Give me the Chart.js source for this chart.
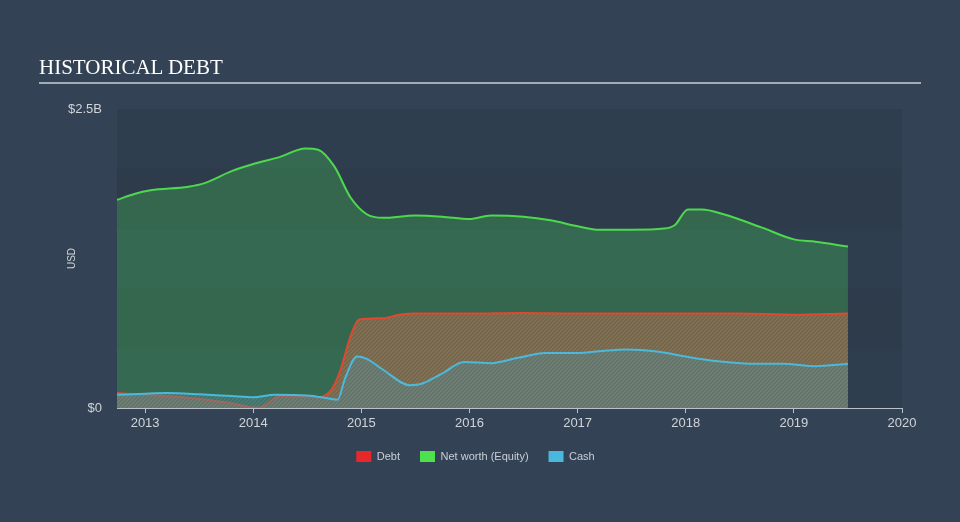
<!DOCTYPE html>
<html>
<head>
<meta charset="utf-8">
<script src="https://cdn.jsdelivr.net/npm/chart.js@4/dist/chart.umd.min.js"></script>
<style>
  html, body { margin: 0; padding: 0; background: #334355; width: 960px; height: 522px; overflow: hidden; }
  #wrap { position: relative; width: 960px; height: 522px; }
  #title { position: absolute; left: 39px; top: 55px; width: 882px; font-family: "Liberation Serif", "Times New Roman", serif; font-size: 21px; color: #ffffff; border-bottom: 2px solid #a3aab3; padding-bottom: 3px; line-height: 24px; }
  canvas { position: absolute; left: 0; top: 0; }
</style>
</head>
<body>
<div id="wrap">
  <canvas id="c" width="960" height="522"></canvas>
  <div id="title">HISTORICAL DEBT</div>
</div>
<script>
// ---- data (values in billions USD, x in fractional years) ----
const seriesNames = ["Debt", "Net worth (Equity)", "Cash"];
const xTickYears = [2013, 2014, 2015, 2016, 2017, 2018, 2019, 2020];
const yTickValues = [0, 2.5];
const yTickLabels = ["$0", "$2.5B"];

const debtDates  = [2012.74, 2013.0, 2013.2, 2013.5, 2013.8, 2014.0, 2014.06, 2014.25, 2014.6, 2014.72, 2014.8, 2014.9, 2014.98, 2015.2, 2015.35, 2015.5, 2016.0, 2016.5, 2017.0, 2017.5, 2018.0, 2018.5, 2019.0, 2019.5];
const debtValues = [0.125, 0.11, 0.10, 0.075, 0.04, 0.005, 0.005, 0.10, 0.09, 0.15, 0.30, 0.60, 0.74, 0.75, 0.78, 0.79, 0.79, 0.795, 0.79, 0.79, 0.79, 0.79, 0.78, 0.79];

const equityDates  = [2012.74, 2012.9, 2013.05, 2013.4, 2013.55, 2013.8, 2014.0, 2014.25, 2014.48, 2014.6, 2014.75, 2014.9, 2015.05, 2015.2, 2015.5, 2015.75, 2016.0, 2016.2, 2016.5, 2016.75, 2017.0, 2017.2, 2017.5, 2017.8, 2017.9, 2018.02, 2018.15, 2018.35, 2018.7, 2019.0, 2019.2, 2019.5];
const equityValues = [1.74, 1.79, 1.82, 1.85, 1.88, 1.98, 2.04, 2.10, 2.17, 2.16, 2.02, 1.76, 1.62, 1.59, 1.61, 1.60, 1.58, 1.61, 1.60, 1.57, 1.52, 1.49, 1.49, 1.50, 1.53, 1.66, 1.66, 1.62, 1.51, 1.41, 1.39, 1.35];

const cashDates  = [2012.74, 2013.0, 2013.2, 2013.5, 2013.8, 2014.0, 2014.2, 2014.5, 2014.7, 2014.78, 2014.85, 2014.96, 2015.05, 2015.2, 2015.45, 2015.55, 2015.75, 2015.95, 2016.2, 2016.45, 2016.7, 2017.0, 2017.2, 2017.45, 2017.75, 2018.0, 2018.3, 2018.6, 2018.9, 2019.2, 2019.5];
const cashValues = [0.11, 0.12, 0.125, 0.115, 0.10, 0.09, 0.11, 0.105, 0.08, 0.07, 0.25, 0.43, 0.41, 0.32, 0.19, 0.20, 0.29, 0.385, 0.375, 0.42, 0.46, 0.46, 0.475, 0.49, 0.47, 0.43, 0.39, 0.37, 0.37, 0.35, 0.37];

const legendColors = ["#e8272b", "#4fe04f", "#4ab8dd"];
const lineColors   = ["#e0492f", "#4dd94d", "#4ab9dc"];

function toPoints(xs, ys) { return xs.map((x, i) => ({ x: x, y: ys[i] })); }

function hatch(stripe, gap) {
  const s = 4;
  const c = document.createElement('canvas'); c.width = s; c.height = s;
  const g = c.getContext('2d');
  g.fillStyle = gap; g.fillRect(0, 0, s, s);
  g.strokeStyle = stripe; g.lineWidth = 1.3;
  g.beginPath();
  g.moveTo(0, s); g.lineTo(s, 0);
  g.moveTo(-1, 1); g.lineTo(1, -1);
  g.moveTo(s - 1, s + 1); g.lineTo(s + 1, s - 1);
  g.stroke();
  return g.createPattern(c, 'repeat');
}
const ctx = document.getElementById('c').getContext('2d');
const debtPattern = hatch('rgba(222,88,52,0.75)', 'rgba(120,150,130,0.3)');
const cashPattern = hatch('rgba(95,140,150,0.55)', 'rgba(80,135,145,0.3)');

const bandPlugin = {
  id: 'bands',
  beforeDraw(chart) {
    const { ctx, chartArea: a, scales: { y } } = chart;
    ctx.save();
    const steps = [0, 0.5, 1, 1.5, 2, 2.5];
    for (let i = 0; i < steps.length - 1; i++) {
      const y1 = y.getPixelForValue(steps[i]), y2 = y.getPixelForValue(steps[i + 1]);
      ctx.fillStyle = (i % 2 === 0) ? '#2f3e4f' : '#2d3b4b';
      ctx.fillRect(a.left, y2, a.right - a.left, y1 - y2);
    }
    ctx.restore();
  }
};

const common = { fill: 'origin', borderWidth: 2, pointRadius: 0, cubicInterpolationMode: 'monotone' };

new Chart(ctx, {
  type: 'line',
  data: {
    datasets: [
      Object.assign({ label: seriesNames[0], data: toPoints(debtDates, debtValues), borderColor: lineColors[0], backgroundColor: debtPattern, order: 1 }, common),
      Object.assign({ label: seriesNames[1], data: toPoints(equityDates, equityValues), borderColor: lineColors[1], backgroundColor: 'rgba(72,205,88,0.3)', order: 2 }, common),
      Object.assign({ label: seriesNames[2], data: toPoints(cashDates, cashValues), borderColor: lineColors[2], backgroundColor: cashPattern, order: 0 }, common)
    ]
  },
  options: {
    responsive: false,
    animation: false,
    devicePixelRatio: 1,
    layout: { padding: { left: 49, right: 58, top: 109, bottom: 50 } },
    scales: {
      x: {
        type: 'linear',
        min: 2012.74,
        max: 2020,
        afterBuildTicks(scale) { scale.ticks = xTickYears.map(v => ({ value: v })); },
        afterFit(scale) { scale.height = 23; },
        ticks: { color: '#d0d4d9', font: { family: 'Liberation Sans, Arial, sans-serif', size: 13 }, padding: 3, maxRotation: 0, callback: v => String(v) },
        grid: { display: true, drawOnChartArea: false, drawTicks: true, tickLength: 5, color: '#b9c1ca', lineWidth: 1 },
        border: { display: true, color: '#b9c1ca', width: 1 }
      },
      y: {
        min: 0,
        max: 2.5,
        afterBuildTicks(scale) { scale.ticks = yTickValues.map(v => ({ value: v })); },
        afterFit(scale) { scale.width = 68; },
        ticks: { color: '#d0d4d9', font: { family: 'Liberation Sans, Arial, sans-serif', size: 13 }, padding: 15, callback: (v) => yTickLabels[yTickValues.indexOf(v)] },
        grid: { display: false, drawTicks: false },
        border: { display: false },
        title: { display: true, text: 'USD', color: '#d0d4d9', font: { family: 'Liberation Sans, Arial, sans-serif', size: 10 }, padding: { top: 17, bottom: 0 } }
      }
    },
    plugins: {
      legend: {
        position: 'bottom',
        labels: {
          color: '#c9ced4',
          font: { family: 'Liberation Sans, Arial, sans-serif', size: 11 },
          boxWidth: 15, boxHeight: 11, padding: 20,
          sort: (a, b) => a.datasetIndex - b.datasetIndex,
          generateLabels(chart) {
            const items = Chart.defaults.plugins.legend.labels.generateLabels(chart);
            items.forEach(it => { it.fillStyle = legendColors[it.datasetIndex]; it.strokeStyle = legendColors[it.datasetIndex]; it.lineWidth = 0; });
            return items;
          }
        }
      },
      tooltip: { enabled: false }
    }
  },
  plugins: [bandPlugin]
});
</script>
</body>
</html>
